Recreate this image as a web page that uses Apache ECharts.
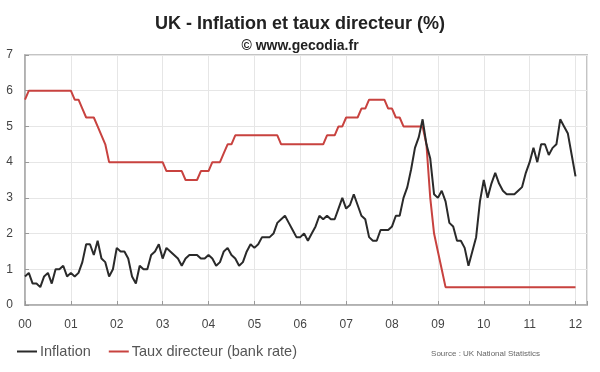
<!DOCTYPE html>
<html><head><meta charset="utf-8">
<script src="https://cdn.jsdelivr.net/npm/echarts@6/dist/echarts.min.js"></script>
<style>html,body{margin:0;padding:0;background:#fff}#c{width:600px;height:372px}</style>
</head><body><div id="c"></div>
<script>
// Monthly data, Jan 2000 .. Jan 2012
const startYear = 2000;
const xTickLabels = ['00','01','02','03','04','05','06','07','08','09','10','11','12'];
const inflation = [
  0.8,0.9,0.6,0.6,0.5,0.8,0.9,0.6,1.0,1.0,1.1,0.8,
  0.9,0.8,0.9,1.2,1.7,1.7,1.4,1.8,1.3,1.2,0.8,1.0,
  1.6,1.5,1.5,1.3,0.8,0.6,1.1,1.0,1.0,1.4,1.5,1.7,
  1.3,1.6,1.5,1.4,1.3,1.1,1.3,1.4,1.4,1.4,1.3,1.3,
  1.4,1.3,1.1,1.2,1.5,1.6,1.4,1.3,1.1,1.2,1.5,1.7,
  1.6,1.7,1.9,1.9,1.9,2.0,2.3,2.4,2.5,2.3,2.1,1.9,
  1.9,2.0,1.8,2.0,2.2,2.5,2.4,2.5,2.4,2.4,2.7,3.0,
  2.7,2.8,3.1,2.8,2.5,2.4,1.9,1.8,1.8,2.1,2.1,2.1,
  2.2,2.5,2.5,3.0,3.3,3.8,4.4,4.7,5.2,4.5,4.1,3.1,
  3.0,3.2,2.9,2.3,2.2,1.8,1.8,1.6,1.1,1.5,1.9,2.9,
  3.5,3.0,3.4,3.7,3.4,3.2,3.1,3.1,3.1,3.2,3.3,3.7,
  4.0,4.4,4.0,4.5,4.5,4.2,4.4,4.5,5.2,5.0,4.8,4.2,
  3.6
];
const bankRate = [
  5.75,6,6,6,6,6,6,6,6,6,6,6,
  6,5.75,5.75,5.5,5.25,5.25,5.25,5.0,4.75,4.5,4.0,4.0,
  4,4,4,4,4,4,4,4,4,4,4,4,
  4.0,3.75,3.75,3.75,3.75,3.75,3.5,3.5,3.5,3.5,3.75,3.75,
  3.75,4.0,4.0,4.0,4.25,4.5,4.5,4.75,4.75,4.75,4.75,4.75,
  4.75,4.75,4.75,4.75,4.75,4.75,4.75,4.5,4.5,4.5,4.5,4.5,
  4.5,4.5,4.5,4.5,4.5,4.5,4.5,4.75,4.75,4.75,5.0,5.0,
  5.25,5.25,5.25,5.25,5.5,5.5,5.75,5.75,5.75,5.75,5.75,5.5,
  5.5,5.25,5.25,5.0,5.0,5.0,5.0,5.0,5.0,4.5,3.0,2.0,
  1.5,1.0,0.5,0.5,0.5,0.5,0.5,0.5,0.5,0.5,0.5,0.5,
  0.5,0.5,0.5,0.5,0.5,0.5,0.5,0.5,0.5,0.5,0.5,0.5,
  0.5,0.5,0.5,0.5,0.5,0.5,0.5,0.5,0.5,0.5,0.5,0.5,
  0.5
];
const toPairs = arr => arr.map((v,i)=>[startYear + i/12, v]);

const chart = echarts.init(document.getElementById('c'), null, {renderer:'canvas'});
const font = '"Liberation Sans", Arial, sans-serif';
chart.setOption({
  animation:false,
  textStyle:{fontFamily:font},
  title:[
    {text:'UK - Inflation et taux directeur (%)', left:'center', top:10,
     textStyle:{fontSize:18, fontWeight:'bold', color:'#222', fontFamily:font}},
    {text:'© www.gecodia.fr', left:'center', top:34,
     textStyle:{fontSize:14, fontWeight:'bold', color:'#222', fontFamily:font}}
  ],
  grid:{left:25, right:13, top:55, bottom:67, show:true, borderColor:'#c4c4c4', borderWidth:2},
  xAxis:{type:'value', min:2000, max:2012.25, interval:1,
    axisLine:{show:true, lineStyle:{color:'#aaa', width:1.5}},
    axisTick:{show:true, length:4, inside:true, lineStyle:{color:'#999'}},
    splitLine:{show:true, lineStyle:{color:'#e6e6e6'}},
    axisLabel:{color:'#444', fontSize:12, margin:14,
      formatter:v=>{const d=v-startYear; return Number.isInteger(d)&&xTickLabels[d]!==undefined?xTickLabels[d]:'';}}
  },
  yAxis:{type:'value', min:0, max:7, interval:1,
    axisLine:{show:true, lineStyle:{color:'#aaa', width:1.5}},
    axisTick:{show:true, length:4, inside:true, lineStyle:{color:'#999'}},
    splitLine:{show:true, lineStyle:{color:'#e6e6e6'}},
    axisLabel:{color:'#444', fontSize:12, margin:12}
  },
  legend:{left:12, bottom:8, itemGap:18, itemWidth:20, itemHeight:2, icon:'rect',
    textStyle:{fontSize:14.5, color:'#555', fontFamily:font, padding:[0,0,0,-2]},
    data:['Inflation','Taux directeur (bank rate)']},
  graphic:[{type:'text', right:60, bottom:14,
    style:{text:'Source : UK National Statistics', fontSize:8, fill:'#666', fontFamily:font}}],
  series:[
    {name:'Inflation', type:'line', data:toPairs(inflation), showSymbol:false,
     lineStyle:{color:'#2a2a2a', width:2}, itemStyle:{color:'#2a2a2a'}, z:3},
    {name:'Taux directeur (bank rate)', type:'line', data:toPairs(bankRate), showSymbol:false,
     lineStyle:{color:'#c8423f', width:2}, itemStyle:{color:'#c8423f'}, z:2}
  ]
});
</script></body></html>
